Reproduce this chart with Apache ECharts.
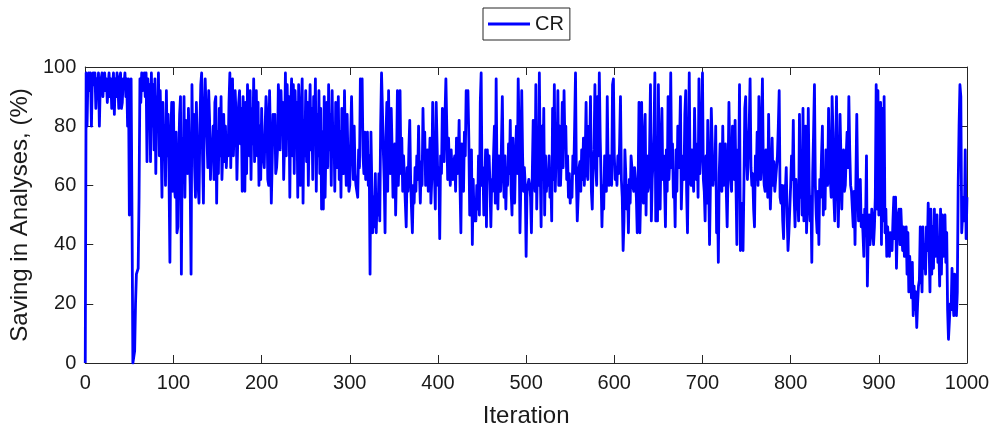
<!DOCTYPE html>
<html>
<head>
<meta charset="utf-8">
<script src="https://cdn.jsdelivr.net/npm/echarts@6/dist/echarts.min.js"></script>
<style>html,body{margin:0;padding:0;background:#fff;}#c{width:1000px;height:434px;}</style>
</head>
<body>
<div id="c"></div>
<script>
var seriesName = 'CR';
var xTicks = [0, 100, 200, 300, 400, 500, 600, 700, 800, 900, 1000];
var yTicks = [0, 20, 40, 60, 80, 100];
var crValues = [
0,98,80,96,98,92,98,80,96,98,94,98,86,96,92,98,80,94,96,98,90,96,98,92,96,
88,94,98,90,96,86,94,98,84,96,90,98,94,86,96,98,86,88,96,94,98,90,96,80,96,
50,94,96,50,0,2,4,20,30,30,32,56,96,88,98,92,96,98,90,98,68,96,88,94,68,
98,80,94,72,96,64,90,84,98,70,92,76,56,88,70,80,60,92,70,84,62,34,76,88,58,
88,60,56,78,44,46,70,84,90,30,76,62,90,56,82,78,64,86,72,60,30,94,70,84,66,
56,88,72,60,54,80,94,98,70,54,84,96,96,76,66,92,82,62,74,72,80,62,88,90,54,
78,64,86,70,90,62,72,84,68,80,66,76,70,88,98,66,84,96,70,80,92,84,62,76,88,
92,74,86,58,90,76,58,88,64,94,80,70,92,62,86,74,96,68,84,92,70,88,60,80,62,
86,72,72,66,80,90,84,62,60,92,76,54,68,84,74,84,64,66,72,94,86,72,92,80,88,
62,74,98,70,94,76,90,56,86,96,70,94,64,92,78,88,56,94,72,60,86,96,54,82,70,
92,68,88,60,80,94,72,86,62,90,76,96,58,84,70,92,64,86,52,78,52,90,56,74,88,
66,94,72,84,60,92,70,80,58,88,74,66,90,62,78,56,86,70,64,92,72,60,84,68,58,
60,76,90,74,62,80,64,60,58,56,72,66,96,84,96,70,64,78,62,64,78,60,70,30,78,
60,44,56,46,64,44,56,50,64,48,80,98,86,72,62,44,76,88,58,92,66,64,86,72,56,
62,74,50,66,92,60,70,92,64,76,58,70,62,54,46,66,58,72,82,62,52,44,60,54,66,
58,70,62,80,64,54,68,60,86,70,78,60,64,72,58,66,76,54,62,88,70,64,52,88,74,
60,66,42,70,64,86,78,68,84,96,80,62,76,66,60,72,64,62,68,70,58,76,64,68,82,
60,44,74,66,58,78,70,92,82,92,76,50,68,72,40,62,48,54,48,60,52,70,50,88,98,
60,66,50,58,72,46,72,64,70,60,46,62,58,70,80,54,96,62,52,70,62,58,74,90,64,
56,70,52,66,60,74,64,82,58,50,76,62,54,70,80,64,96,78,44,60,92,70,58,66,60,
36,58,60,62,60,56,44,64,82,70,58,94,52,68,60,98,66,46,80,62,86,50,70,58,64,
60,70,56,62,48,86,62,94,58,70,68,92,60,80,60,70,88,66,92,74,80,62,70,56,64,
54,60,56,70,64,80,98,62,48,56,66,68,58,72,62,76,60,70,88,64,62,80,70,90,58,
52,68,72,94,66,60,90,70,98,76,62,46,60,52,70,64,58,90,66,60,70,64,60,94,96,
70,62,66,60,70,64,74,90,62,56,38,48,72,64,52,60,44,62,54,70,66,60,58,66,62,
56,44,60,88,44,58,88,62,54,76,84,50,70,58,60,72,94,48,62,68,78,98,48,64,48,
94,60,52,74,86,62,70,60,46,72,58,90,62,70,98,66,74,56,62,46,72,58,80,66,74,
90,52,64,70,62,84,92,58,44,70,98,62,60,72,64,58,86,70,62,74,56,96,64,70,80,
98,62,58,48,70,54,82,62,40,60,86,74,60,68,62,80,44,58,34,64,74,62,58,80,60,
62,74,58,46,64,88,70,62,58,80,76,62,82,60,40,72,62,94,38,54,42,38,60,86,90,
70,62,72,80,96,66,60,64,52,46,70,62,78,60,90,72,62,80,96,66,60,58,72,70,56,
84,64,52,62,76,60,68,58,62,66,70,80,92,56,54,60,48,42,60,58,66,50,38,44,52,
60,70,62,82,56,46,62,52,58,48,84,56,66,50,86,48,62,80,44,54,86,60,48,56,34,
64,78,94,60,50,44,58,40,62,56,70,80,50,64,52,72,68,60,86,70,62,56,90,78,56,
48,70,90,64,46,60,84,70,52,66,72,58,60,70,78,66,90,72,60,58,52,46,58,40,62,
84,60,48,56,62,46,50,44,36,52,48,70,26,44,50,40,44,52,48,40,46,56,94,52,92,
50,62,88,40,86,48,90,44,52,36,46,40,36,44,40,38,48,56,42,56,32,46,50,52,40,
52,44,38,46,36,40,46,30,44,24,36,30,22,34,16,26,18,24,12,20,26,28,46,34,24,
46,32,40,30,46,38,54,40,24,52,30,46,32,52,36,44,50,34,40,26,52,30,50,36,44,
50,34,44,18,8,14,20,18,32,22,16,30,20,16,24,60,80,94,90,44,50,56,48,72,42,56
];

var points = crValues.map(function (v, i) { return [i, v]; });
var txt = '#1a1a1a';
var axisCol = '#262626';
var font = 'Liberation Sans, Arial, Helvetica, sans-serif';

var chart = echarts.init(document.getElementById('c'), null, {renderer: 'canvas'});
function baseX(extra) {
  return Object.assign({
    type: 'value', min: xTicks[0], max: xTicks[xTicks.length - 1], interval: 100,
    axisLine: {show: true, onZero: false, lineStyle: {color: axisCol, width: 1}},
    axisTick: {show: true, inside: true, length: 8, lineStyle: {color: axisCol}},
    splitLine: {show: false}
  }, extra);
}
function baseY(extra) {
  return Object.assign({
    type: 'value', min: yTicks[0], max: yTicks[yTicks.length - 1], interval: 20,
    axisLine: {show: true, onZero: false, lineStyle: {color: axisCol, width: 1}},
    axisTick: {show: true, inside: true, length: 8, lineStyle: {color: axisCol}},
    splitLine: {show: false}
  }, extra);
}
chart.setOption({
  animation: false,
  textStyle: {fontFamily: font},
  grid: {left: 85, right: 33, top: 67, bottom: 71, containLabel: false},
  legend: {
    data: [{name: seriesName, icon: 'rect'}], top: 8, left: 483,
    itemWidth: 42, itemHeight: 3, itemGap: 6,
    borderColor: axisCol, borderWidth: 1, borderRadius: 0,
    padding: [5, 6, 5, 5],
    textStyle: {fontSize: 20, color: txt, fontFamily: font, padding: [0, 0, 0, 0], lineHeight: 22}
  },
  xAxis: [
    baseX({
      position: 'bottom',
      name: 'Iteration', nameLocation: 'middle', nameGap: 41,
      nameTextStyle: {fontSize: 24, color: txt, fontFamily: font},
      axisLabel: {show: true, fontSize: 20, color: txt, margin: 10, fontFamily: font,
        formatter: function (v) { return String(v); }}
    }),
    baseX({position: 'top', axisLabel: {show: false}})
  ],
  yAxis: [
    baseY({
      position: 'left',
      name: 'Saving in Analyses, (%)', nameLocation: 'middle', nameGap: 51,
      nameTextStyle: {fontSize: 24, color: txt, fontFamily: font},
      axisLabel: {show: true, fontSize: 20, color: txt, margin: 9, fontFamily: font}
    }),
    baseY({position: 'right', axisLabel: {show: false}})
  ],
  series: [{
    name: seriesName, type: 'line', data: points,
    xAxisIndex: 0, yAxisIndex: 0,
    symbol: 'none', showSymbol: false,
    lineStyle: {color: '#0000ff', width: 2.8, join: 'round'},
    itemStyle: {color: '#0000ff'}
  }]
});
</script>
</body>
</html>
